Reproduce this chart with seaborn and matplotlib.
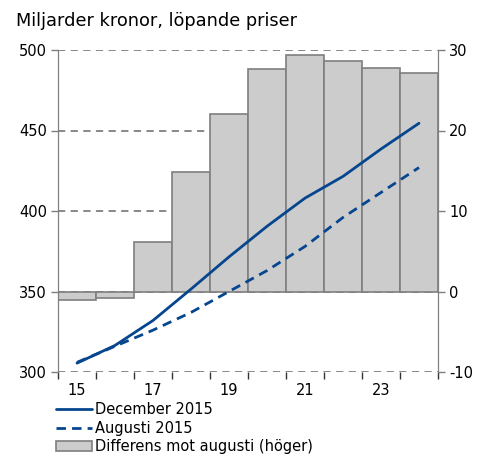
import matplotlib
matplotlib.use("Agg")
import matplotlib.pyplot as plt
import seaborn as sns
import pandas as pd
from matplotlib.lines import Line2D
from matplotlib.patches import Patch

years = [15, 16, 17, 18, 19, 20, 21, 22, 23, 24]
december = [305.5, 316.5, 332, 351.5, 371.5, 390.5, 408, 421.5, 438.5, 454.5]
augusti = [306, 316, 326, 337, 350, 363, 378, 396, 411.5, 427]
differens = [-1.1, -0.8, 6.1, 14.9, 22.0, 27.6, 29.4, 28.6, 27.8, 27.2]

df = pd.DataFrame({"year": years, "dec": december, "aug": augusti, "diff": differens})

sns.set_style("white")
plt.rcParams["font.family"] = ["DejaVu Sans"]
plt.rcParams["axes.unicode_minus"] = False
plt.rcParams["text.color"] = "black"
plt.rcParams["xtick.labelcolor"] = "black"
plt.rcParams["ytick.labelcolor"] = "black"

blue = "#06468f"
grey = "#7f7f7f"

fig = plt.figure(figsize=(4.86, 4.58), dpi=100)
ax = fig.add_axes([58/486, 1-372/458, 380/486, 322/458])
ax2 = ax.twinx()

# grid behind bars (right-axis units)
for y in [-10, 0, 10, 20, 30]:
    ax.axhline(y, color=grey, lw=1.3, ls=(0, (4, 3)), zorder=0)

# bars on right axis
sns.barplot(data=df, x="year", y="diff", native_scale=True, width=1, color="#cccccc",
            edgecolor=grey, linewidth=1.2, saturation=1, ax=ax, zorder=2)
ax.set_ylim(-10, 30)
ax.set_xlim(14.5, 24.5)
ax.yaxis.tick_right()
ax.set_yticks([-10, 0, 10, 20, 30])

# lines on left axis
sns.lineplot(data=df, x="year", y="dec", color=blue, lw=2, ax=ax2, zorder=5)
sns.lineplot(data=df, x="year", y="aug", color=blue, lw=2, ax=ax2, zorder=5)
ax2.lines[-1].set_dashes((3.4, 2.2))
ax2.yaxis.tick_left()
ax2.set_ylim(300, 500)
ax2.set_yticks([300, 350, 400, 450, 500])
ax2.set_xlim(14.5, 24.5)

for a in (ax, ax2):
    a.set_xlabel("")
    a.set_ylabel("")
    for s in ["top", "bottom"]:
        a.spines[s].set_visible(False)
    a.spines["left"].set_color(grey)
    a.spines["right"].set_color(grey)
    a.tick_params(axis="y", length=5, width=1, color=grey, labelsize=10.5, pad=3,
                  direction="out", labelcolor="black")

ax.set_xticks([15, 17, 19, 21, 23])
ax.set_xticklabels(["15", "17", "19", "21", "23"])
ax.set_xticks([x + 0.5 for x in range(14, 25)], minor=True)
ax.tick_params(axis="x", which="both", bottom=True)
ax.tick_params(axis="x", which="major", length=0, labelsize=10.5, pad=8, labelcolor="black")
ax.tick_params(axis="x", which="minor", length=5, width=1, color="#333333", direction="out")
ax2.tick_params(axis="x", which="both", length=0, labelbottom=False)

fig.text(16/486, 1-26/458, "Miljarder kronor, löpande priser", fontsize=12.8,
         ha="left", va="baseline", color="black")

handles = [
    Line2D([], [], color=blue, lw=2),
    Line2D([], [], color=blue, lw=2, dashes=(3.4, 2.2)),
    Patch(facecolor="#cccccc", edgecolor=grey, linewidth=1.2),
]
labels = ["December 2015", "Augusti 2015", "Differens mot augusti (höger)"]
fig.legend(handles, labels, loc="upper left", bbox_to_anchor=(56/486, 1-402/458), frameon=False,
           fontsize=10.5, handlelength=2.5, handletextpad=0.2, labelspacing=0.25, borderpad=0,
           borderaxespad=0, handleheight=0.7, labelcolor="black")

fig.savefig("out.png", dpi=100)
